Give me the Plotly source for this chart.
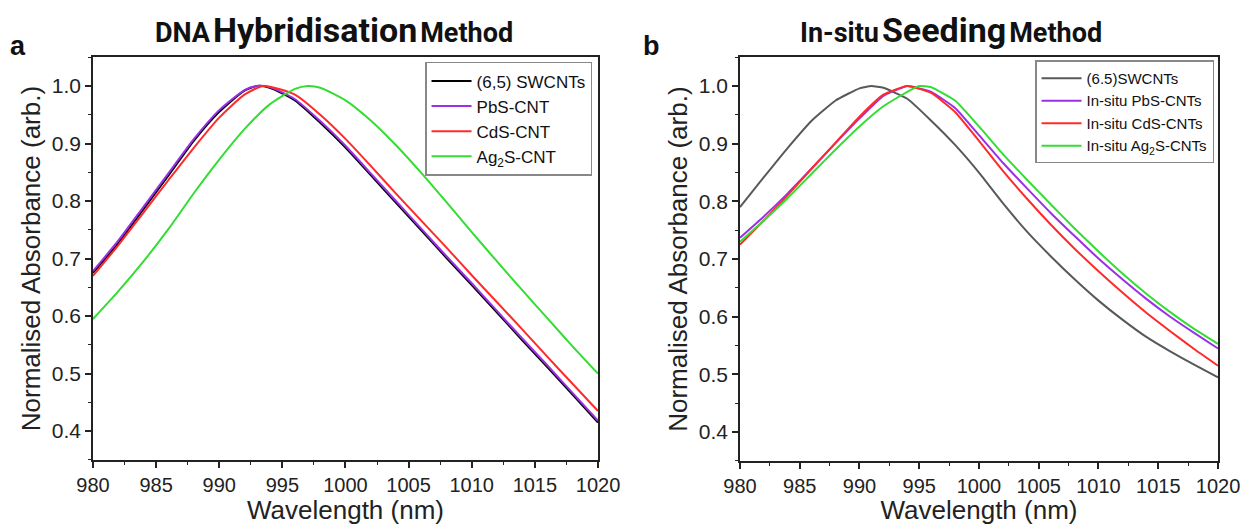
import plotly.graph_objects as go

# Wellenlängen (nm), 2 nm Schritt; Spitzen einzeln eingefügt
wl_a_black = [980, 982, 984, 986, 988, 990, 992, 993, 994, 996, 998, 1000, 1002, 1004, 1006, 1008, 1010, 1012, 1014, 1016, 1018, 1020]
swcnt_a = [0.675, 0.727, 0.786, 0.845, 0.905, 0.955, 0.992, 1.000, 0.997, 0.975, 0.936, 0.893, 0.845, 0.797, 0.749, 0.701, 0.654, 0.606, 0.558, 0.511, 0.463, 0.415]
pbs_a = [0.678, 0.731, 0.790, 0.849, 0.908, 0.958, 0.993, 1.000, 0.998, 0.977, 0.939, 0.896, 0.848, 0.800, 0.752, 0.704, 0.657, 0.609, 0.561, 0.514, 0.466, 0.418]

wl_a_red = [980, 982, 984, 986, 988, 990, 992, 993.5, 996, 998, 1000, 1002, 1004, 1006, 1008, 1010, 1012, 1014, 1016, 1018, 1020]
cds_a = [0.670, 0.723, 0.780, 0.837, 0.893, 0.945, 0.985, 1.000, 0.985, 0.950, 0.908, 0.861, 0.813, 0.766, 0.719, 0.671, 0.624, 0.577, 0.529, 0.482, 0.435]

wl_a_green = [980, 982, 984, 986, 988, 990, 992, 994, 996, 997, 998, 1000, 1002, 1004, 1006, 1008, 1010, 1012, 1014, 1016, 1018, 1020]
ag2s_a = [0.595, 0.643, 0.695, 0.752, 0.814, 0.872, 0.925, 0.968, 0.995, 1.000, 0.997, 0.975, 0.940, 0.897, 0.849, 0.798, 0.746, 0.695, 0.645, 0.596, 0.547, 0.500]

wl_b_grey = [980, 982, 984, 986, 988, 990, 991, 992, 994, 996, 998, 1000, 1002, 1004, 1006, 1008, 1010, 1012, 1014, 1016, 1018, 1020]
swcnt_b = [0.790, 0.842, 0.893, 0.940, 0.975, 0.996, 1.000, 0.997, 0.978, 0.940, 0.898, 0.850, 0.797, 0.748, 0.705, 0.665, 0.628, 0.595, 0.565, 0.540, 0.517, 0.495]

wl_b = [980, 982, 984, 986, 988, 990, 992, 994, 996, 998, 1000, 1002, 1004, 1006, 1008, 1010, 1012, 1014, 1016, 1018, 1020]
pbs_b = [0.737, 0.774, 0.814, 0.857, 0.901, 0.944, 0.983, 1.000, 0.990, 0.962, 0.915, 0.867, 0.823, 0.780, 0.740, 0.701, 0.665, 0.631, 0.600, 0.572, 0.545]
cds_b = [0.725, 0.767, 0.811, 0.857, 0.902, 0.947, 0.985, 1.000, 0.988, 0.955, 0.905, 0.853, 0.805, 0.760, 0.718, 0.679, 0.642, 0.607, 0.575, 0.544, 0.515]

wl_b_green = [980, 982, 984, 986, 988, 990, 992, 994, 995, 996, 998, 1000, 1002, 1004, 1006, 1008, 1010, 1012, 1014, 1016, 1018, 1020]
ag2s_b = [0.730, 0.767, 0.806, 0.848, 0.890, 0.930, 0.965, 0.990, 1.000, 0.998, 0.975, 0.930, 0.882, 0.838, 0.795, 0.753, 0.713, 0.675, 0.640, 0.608, 0.579, 0.553]

x_ticks = [980, 985, 990, 995, 1000, 1005, 1010, 1015, 1020]
y_ticks = [0.4, 0.5, 0.6, 0.7, 0.8, 0.9, 1.0]

BLACK = "#000000"
GREY = "#595959"
PURPLE = "#9b30e6"
RED = "#ff2a2a"
GREEN = "#33dd33"
FONT = "Liberation Sans"

serien_a = [
    (wl_a_black, swcnt_a, "(6,5) SWCNTs", BLACK),
    (wl_a_black, pbs_a, "PbS-CNT", PURPLE),
    (wl_a_red, cds_a, "CdS-CNT", RED),
    (wl_a_green, ag2s_a, "Ag<sub>2</sub>S-CNT", GREEN),
]
serien_b = [
    (wl_b_grey, swcnt_b, "(6.5)SWCNTs", GREY),
    (wl_b, pbs_b, "In-situ PbS-CNTs", PURPLE),
    (wl_b, cds_b, "In-situ CdS-CNTs", RED),
    (wl_b_green, ag2s_b, "In-situ Ag<sub>2</sub>S-CNTs", GREEN),
]

fig = go.Figure()

for x, y, name, color in serien_a:
    fig.add_trace(go.Scatter(x=x, y=y, mode="lines", name=name,
                             line=dict(color=color, width=2, shape="spline", smoothing=0.6),
                             xaxis="x", yaxis="y", legend="legend"))

for x, y, name, color in serien_b:
    fig.add_trace(go.Scatter(x=x, y=y, mode="lines", name=name,
                             line=dict(color=color, width=2, shape="spline", smoothing=0.4),
                             xaxis="x2", yaxis="y2", legend="legend2"))


def x_achse(domain):
    return dict(domain=domain, range=[980, 1020], tickvals=x_ticks, ticks="outside", ticklen=6, tickwidth=1.5,
                tickcolor="#222", minor=dict(ticks="outside", ticklen=3, tickwidth=1.2, dtick=2.5, tick0=980, tickcolor="#222"),
                showline=True, linecolor="#222", linewidth=1.5, mirror=True, showgrid=False, zeroline=False,
                automargin=False, tickfont=dict(family=FONT, size=20, color="#222"),
                title=dict(text="Wavelength (nm)", font=dict(family=FONT, size=26, color="#222"), standoff=3))


def y_achse(domain, anchor):
    return dict(domain=domain, anchor=anchor, range=[0.35, 1.05], tickvals=y_ticks, tickformat=".1f", ticks="outside",
                ticklen=6, tickwidth=1.5, tickcolor="#222",
                minor=dict(ticks="outside", ticklen=3, tickwidth=1.2, dtick=0.05, tick0=0.35, tickcolor="#222"),
                showline=True, linecolor="#222", linewidth=1.5, mirror=True, showgrid=False, zeroline=False,
                automargin=False, tickfont=dict(family=FONT, size=21, color="#222"),
                title=dict(text="Normalised Absorbance (arb.)", font=dict(family=FONT, size=26, color="#222"), standoff=4))


legend_style = dict(xanchor="right", yanchor="top", bgcolor="white", bordercolor="#888", borderwidth=1.5,
                    tracegroupgap=0, itemwidth=40)

fig.update_layout(
    width=1243, height=525,
    margin=dict(l=0, r=0, t=0, b=0, autoexpand=False),
    paper_bgcolor="white", plot_bgcolor="white",
    xaxis=dict(x_achse([0.0748, 0.4811]), anchor="y"),
    yaxis=y_achse([0.124, 0.891], "x"),
    xaxis2=dict(x_achse([0.5953, 0.9799]), anchor="y2"),
    yaxis2=y_achse([0.122, 0.891], "x2"),
    legend=dict(legend_style, x=0.4763, y=0.882, font=dict(family=FONT, size=17, color="#111")),
    legend2=dict(legend_style, x=0.9767, y=0.885, font=dict(family=FONT, size=15, color="#111")),
)

titel = [
    (0.2687, "<b><span style='font-size:27px'>DNA</span> <span style='font-size:34px'>Hybridisation</span> <span style='font-size:27px'>Method</span></b>"),
    (0.765, "<b><span style='font-size:27px'>In-situ</span> <span style='font-size:34px'>Seeding</span> <span style='font-size:27px'>Method</span></b>"),
]
for x, text in titel:
    fig.add_annotation(x=x, y=0.943, xref="paper", yref="paper", text=text, showarrow=False,
                       xanchor="center", yanchor="middle", font=dict(family="Roboto", color="#111"))

for x, label in [(0.0145, "a"), (0.5245, "b")]:
    fig.add_annotation(x=x, y=0.912, xref="paper", yref="paper", text=f"<b>{label}</b>", showarrow=False,
                       xanchor="center", yanchor="middle", font=dict(family=FONT, size=27, color="#111"))

# Seitenrand des Browsers entfernen, damit die Figur bei (0, 0) liegt
fig.write_html("out.html", config={"displayModeBar": False},
               post_script="document.body.style.margin = '0';")
